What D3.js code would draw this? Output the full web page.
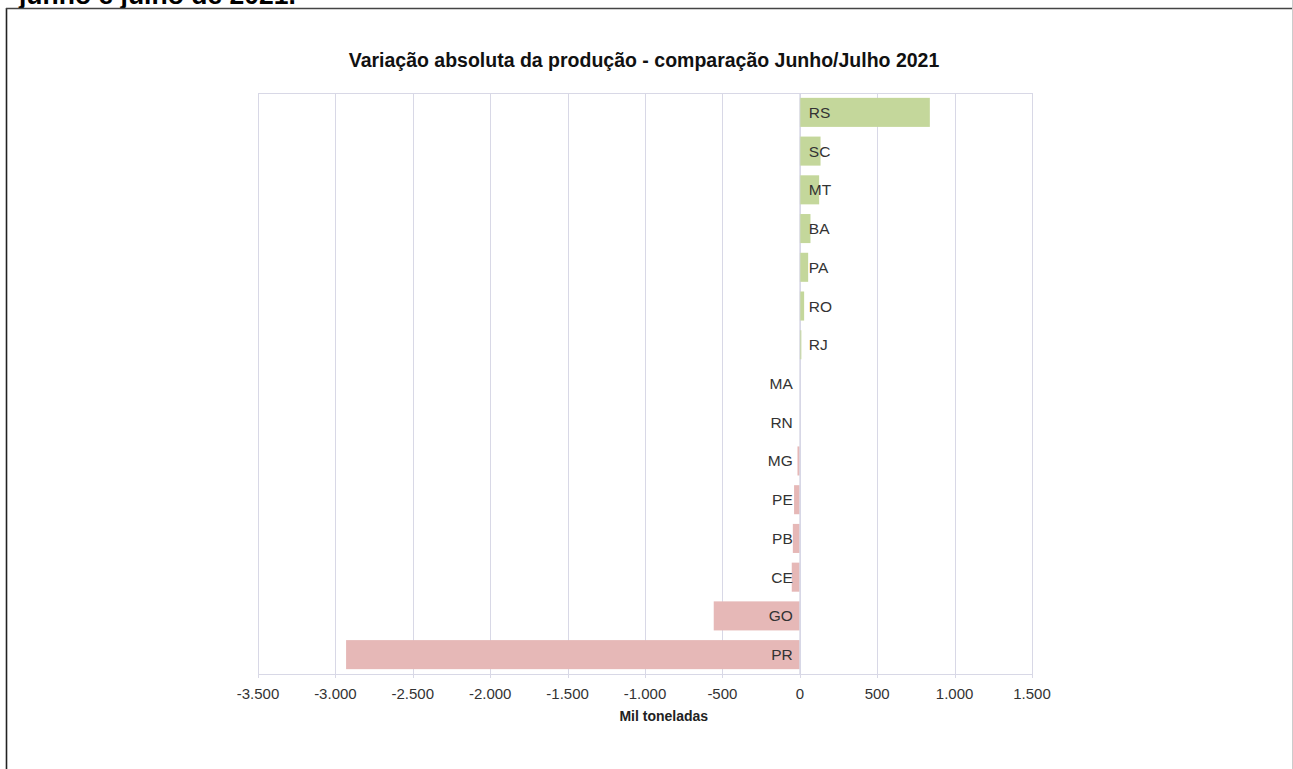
<!DOCTYPE html>
<html><head><meta charset="utf-8">
<script src="https://cdn.jsdelivr.net/npm/d3@7"></script>
<style>
html,body{margin:0;padding:0;background:#fff;}
svg{display:block;}
</style></head>
<body>
<svg id="chart" width="1293" height="769"></svg>
<script>
const categories = ["RS","SC","MT","BA","PA","RO","RJ","MA","RN","MG","PE","PB","CE","GO","PR"];
const values = [840, 134, 125, 69, 54, 28, 10, 0, 0, -15, -37, -45, -52, -556, -2931];
const tickValues = [-3500,-3000,-2500,-2000,-1500,-1000,-500,0,500,1000,1500];
const titleText = "Variação absoluta da produção - comparação Junho/Julho 2021";
const axisTitle = "Mil toneladas";
const headerText = "junho e julho de 2021.";

const svg = d3.select("#chart");
// frame
svg.append("text").attr("x",19).attr("y",4).attr("font-family","Liberation Sans, Arial, sans-serif").attr("font-weight","bold").attr("font-size",26.5).attr("fill","#000").text(headerText);
svg.append("rect").attr("x",0).attr("y",8).attr("width",1293).attr("height",761).attr("fill","#fff");
svg.append("line").attr("x1",6.5).attr("x2",6.5).attr("y1",8).attr("y2",769).attr("stroke","#222").attr("stroke-width",1.6);
svg.append("line").attr("x1",6).attr("x2",1293).attr("y1",8.5).attr("y2",8.5).attr("stroke","#444").attr("stroke-width",1.6);
svg.append("line").attr("x1",1292.5).attr("x2",1292.5).attr("y1",0).attr("y2",769).attr("stroke","#ccc").attr("stroke-width",1);

const pLeft = 258, pRight = 1032, pTop = 93, pBottom = 674;
const x = d3.scaleLinear().domain([-3500,1500]).range([pLeft,pRight]);
const y = d3.scaleBand().domain(categories).range([pTop,pBottom]).paddingInner(0.25).paddingOuter(0.125);

// gridlines
svg.append("g").selectAll("line").data(tickValues).join("line")
  .attr("x1",d=>Math.round(x(d))+0.5).attr("x2",d=>Math.round(x(d))+0.5)
  .attr("y1",pTop).attr("y2",pBottom+4).attr("stroke","#d8d8e6").attr("stroke-width",1);
svg.append("line").attr("x1",pLeft).attr("x2",pRight+1).attr("y1",pTop+0.5).attr("y2",pTop+0.5).attr("stroke","#d8d8e6");
svg.append("line").attr("x1",pLeft).attr("x2",pRight+1).attr("y1",pBottom+0.5).attr("y2",pBottom+0.5).attr("stroke","#d8d8e6");

// bars
svg.append("g").selectAll("rect").data(categories).join("rect")
  .attr("x",(d,i)=>x(Math.min(0,values[i])))
  .attr("width",(d,i)=>Math.abs(x(values[i])-x(0)))
  .attr("y",d=>y(d)).attr("height",y.bandwidth())
  .attr("fill",(d,i)=>values[i]>=0?"#c4d79b":"#e6b8b7");

// zero line
svg.append("line").attr("x1",x(0)).attr("x2",x(0)).attr("y1",pTop).attr("y2",pBottom).attr("stroke","#d8d8e6");

// category labels
svg.append("g").selectAll("text").data(categories).join("text")
  .attr("x",(d,i)=>values[i]>0? x(0)+9 : x(0)-7)
  .attr("y",d=>y(d)+y.bandwidth()/2+5.5)
  .attr("text-anchor",(d,i)=>values[i]>0?"start":"end")
  .attr("font-family","Liberation Sans, Arial, sans-serif").attr("font-size",15.5).attr("fill","#333")
  .text(d=>d);

// x axis labels
const fmt = v => d3.format(",")(v).replace(/,/g,".").replace("−","-");
svg.append("g").selectAll("text").data(tickValues).join("text")
  .attr("x",d=>x(d)).attr("y",699).attr("text-anchor","middle")
  .attr("font-family","Liberation Sans, Arial, sans-serif").attr("font-size",15).attr("fill","#333")
  .text(fmt);

svg.append("text").attr("x",x(0)-136).attr("y",721).attr("text-anchor","middle")
  .attr("font-family","Liberation Sans Narrow, Arial Narrow, sans-serif").attr("font-weight","bold").attr("font-size",14).attr("fill","#222")
  .text(axisTitle);

svg.append("text").attr("x",644).attr("y",67).attr("text-anchor","middle")
  .attr("font-family","Liberation Sans, Arial, sans-serif").attr("font-weight","bold").attr("font-size",19.5).attr("fill","#111")
  .text(titleText);
</script>
</body></html>
